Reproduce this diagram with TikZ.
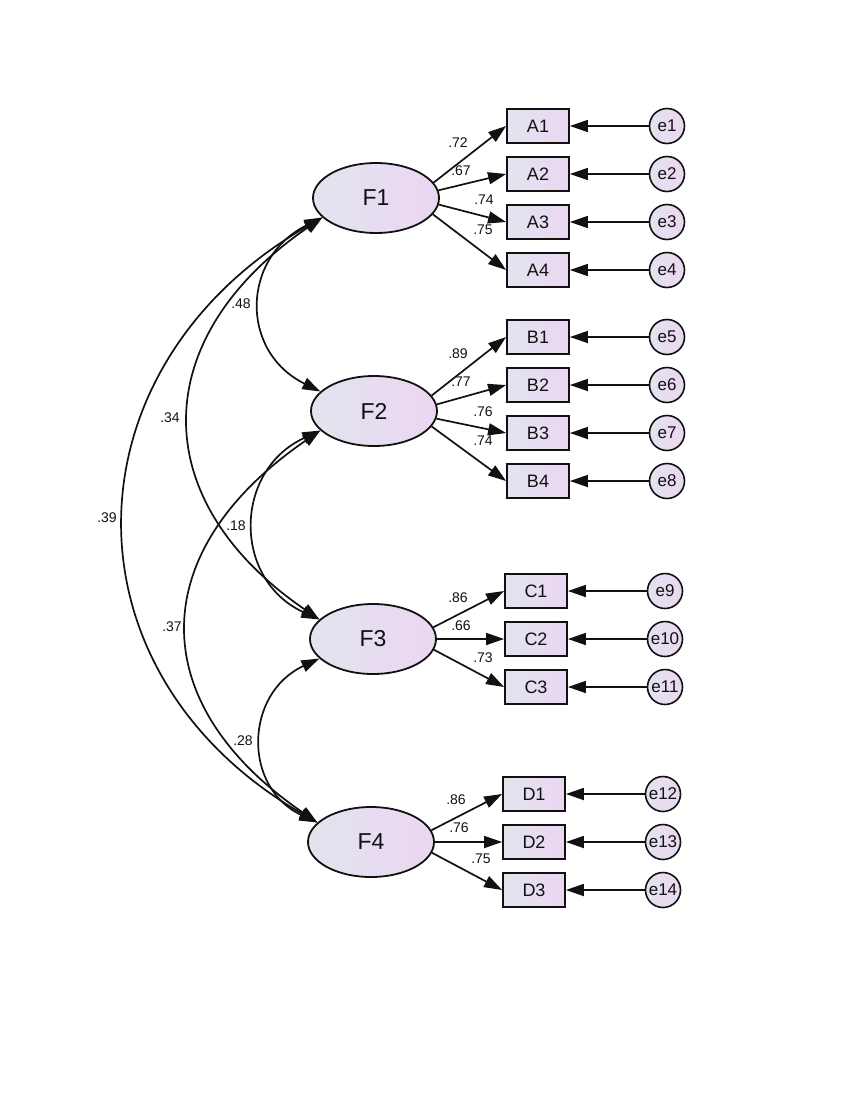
\documentclass[tikz,border=0pt]{standalone}
\usepackage{fontspec}
\setmainfont{Liberation Sans}
\usetikzlibrary{arrows.meta,shapes.geometric}
\definecolor{gA}{HTML}{E2E4EE}
\definecolor{gB}{HTML}{EBD6F2}
\definecolor{ink}{HTML}{111111}
\begin{document}
\begin{tikzpicture}[x=1pt,y=-1pt,
  lat/.style={ellipse,draw=ink,line width=1.8pt,left color=gA,right color=gB,minimum width=126pt,minimum height=70pt,inner sep=0pt,text=ink,font=\fontsize{23}{25}\selectfont},
  obs/.style={rectangle,draw=ink,line width=1.8pt,left color=gA,right color=gB,minimum width=62pt,minimum height=34pt,inner sep=0pt,text=ink,font=\fontsize{18}{20}\selectfont},
  err/.style={circle,draw=ink,line width=1.6pt,left color=gA,right color=gB,minimum size=35pt,inner sep=0pt,text=ink,font=\fontsize{17}{19}\selectfont},
  ld/.style={draw=ink,line width=1.7pt,-{Triangle[length=18pt,width=12pt]}},
  cv/.style={draw=ink,line width=1.7pt,{Triangle[length=18pt,width=12pt]}-{Triangle[length=18pt,width=12pt]}},
  lab/.style={font=\fontsize{14}{16}\selectfont,inner sep=0pt,text=ink}]
\useasboundingbox[fill=white] (0,0) rectangle (850,1100);

% latent factors
\node[lat] (F1) at (376,198) {F1};
\node[lat] (F2) at (374,411) {F2};
\node[lat] (F3) at (373,639) {F3};
\node[lat] (F4) at (371,842) {F4};

% observed
\node[obs] (A1) at (538,126) {A1};
\node[obs] (A2) at (538,174) {A2};
\node[obs] (A3) at (538,222) {A3};
\node[obs] (A4) at (538,270) {A4};
\node[obs] (B1) at (538,337) {B1};
\node[obs] (B2) at (538,385) {B2};
\node[obs] (B3) at (538,433) {B3};
\node[obs] (B4) at (538,481) {B4};
\node[obs] (C1) at (536,591) {C1};
\node[obs] (C2) at (536,639) {C2};
\node[obs] (C3) at (536,687) {C3};
\node[obs] (D1) at (534,794) {D1};
\node[obs] (D2) at (534,842) {D2};
\node[obs] (D3) at (534,890) {D3};

% errors
\node[err] (e1) at (667,126) {e1};
\node[err] (e2) at (667,174) {e2};
\node[err] (e3) at (667,222) {e3};
\node[err] (e4) at (667,270) {e4};
\node[err] (e5) at (667,337) {e5};
\node[err] (e6) at (667,385) {e6};
\node[err] (e7) at (667,433) {e7};
\node[err] (e8) at (667,481) {e8};
\node[err] (e9) at (665,591) {e9};
\node[err] (e10) at (665,639) {e10};
\node[err] (e11) at (665,687) {e11};
\node[err] (e12) at (663,794) {e12};
\node[err] (e13) at (663,842) {e13};
\node[err] (e14) at (663,890) {e14};

% loadings
\draw[ld] (F1.15) -- (A1.west);
\draw[ld] (F1.7) -- (A2.west);
\draw[ld] (F1.-6) -- (A3.west);
\draw[ld] (F1.-16) -- (A4.west);
\draw[ld] (F2.15) -- (B1.west);
\draw[ld] (F2.6) -- (B2.west);
\draw[ld] (F2.-7) -- (B3.west);
\draw[ld] (F2.-15) -- (B4.west);
\draw[ld] (F3.11) -- (C1.west);
\draw[ld] (F3.0) -- (C2.west);
\draw[ld] (F3.-10) -- (C3.west);
\draw[ld] (F4.11) -- (D1.west);
\draw[ld] (F4.0) -- (D2.west);
\draw[ld] (F4.-10) -- (D3.west);

% error paths
\foreach \e/\v in {e1/A1,e2/A2,e3/A3,e4/A4,e5/B1,e6/B2,e7/B3,e8/B4,e9/C1,e10/C2,e11/C3,e12/D1,e13/D2,e14/D3}
  \draw[ld] (\e.west) -- (\v.east);

% covariances
\draw[cv] (F1.200) .. controls +(-81,40) and +(-81,-40) .. (F2.160);
\draw[cv] (F1.200) .. controls +(-175,120) and +(-175,-120) .. (F3.160);
\draw[cv] (F1.200) .. controls +(-260,150) and +(-260,-150) .. (F4.160);
\draw[cv] (F2.200) .. controls +(-87,40) and +(-87,-40) .. (F3.160);
\draw[cv] (F2.200) .. controls +(-175,120) and +(-175,-120) .. (F4.160);
\draw[cv] (F3.200) .. controls +(-75,35) and +(-75,-35) .. (F4.160);

% loading labels
\node[lab] (l1) at (458,143) {.72};
\node[lab] (l2) at (461,171) {.67};
\node[lab] (l3) at (484,200) {.74};
\node[lab] (l4) at (483,230) {.75};
\node[lab] (l5) at (458,354) {.89};
\node[lab] (l6) at (461,382) {.77};
\node[lab] (l7) at (483,412) {.76};
\node[lab] (l8) at (483,441) {.74};
\node[lab] (l9) at (458,598) {.86};
\node[lab] (l10) at (461,626) {.66};
\node[lab] (l11) at (483,658) {.73};
\node[lab] (l12) at (456,800) {.86};
\node[lab] (l13) at (459,828) {.76};
\node[lab] (l14) at (481,859) {.75};

% covariance labels
\node[lab] (c12) at (241,304) {.48};
\node[lab] (c13) at (170,418) {.34};
\node[lab] (c14) at (107,518) {.39};
\node[lab] (c23) at (236,526) {.18};
\node[lab] (c24) at (172,627) {.37};
\node[lab] (c34) at (243,741) {.28};
\end{tikzpicture}
\end{document}
